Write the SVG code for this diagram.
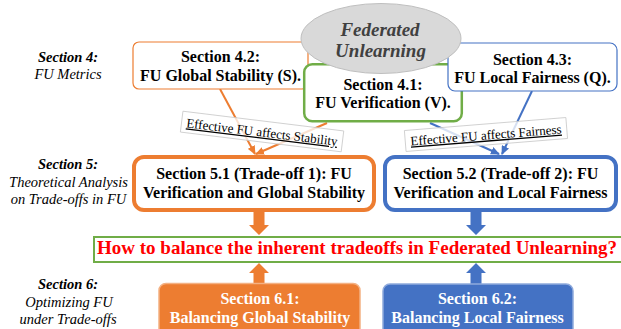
<svg xmlns="http://www.w3.org/2000/svg" width="621" height="329" viewBox="0 0 621 329" font-family="'Liberation Serif', 'Times New Roman', Times, serif">
<style>
text{font-family:'Liberation Serif','Times New Roman',Times,serif;text-anchor:middle}
.b{font-weight:bold;font-size:16px;fill:#000}
.sec{font-weight:bold;font-style:italic;font-size:14.5px}
.sub{font-style:italic;font-size:14.5px}
.lbl{font-size:13px;text-decoration:underline}
.wb{font-weight:bold;font-size:16px;fill:#fff}
.lbox{fill:#fff;fill-opacity:0.78;stroke:#c8c8c8;stroke-width:0.8}
</style>
<defs>
<marker id="ao" markerWidth="9" markerHeight="8" refX="8" refY="4" orient="auto" markerUnits="userSpaceOnUse"><path d="M0,0 L9,4 L0,8 z" fill="#ed7d31"/></marker>
<marker id="ab" markerWidth="9" markerHeight="8" refX="8" refY="4" orient="auto" markerUnits="userSpaceOnUse"><path d="M0,0 L9,4 L0,8 z" fill="#4472c4"/></marker>
</defs>
<rect width="621" height="329" fill="#fff"/>

<g id="side-labels">
<text class="sec" x="68" y="62">Section 4:</text>
<text class="sub" x="68" y="79">FU Metrics</text>
<text class="sec" x="68" y="169">Section 5:</text>
<text class="sub" x="68.5" y="186.5">Theoretical Analysis</text>
<text class="sub" x="68.5" y="204">on Trade-offs in FU</text>
<text class="sec" x="68" y="289">Section 6:</text>
<text class="sub" x="69" y="306.5">Optimizing FU</text>
<text class="sub" x="68" y="324">under Trade-offs</text>
</g>

<g id="connectors" fill="none" stroke-width="2">
<line x1="220" y1="89" x2="255" y2="154" stroke="#ed7d31" marker-end="url(#ao)"/>
<line x1="327" y1="123" x2="256" y2="154" stroke="#ed7d31" marker-end="url(#ao)"/>
<line x1="430" y1="123" x2="499" y2="154" stroke="#4472c4" marker-end="url(#ab)"/>
<line x1="532" y1="91" x2="502" y2="154" stroke="#4472c4" marker-end="url(#ab)"/>
<path d="M253.5,212 H264.5 V225 H269 L259,235 L249,225 H253.5 Z" fill="#ed7d31" stroke="none"/>
<path d="M470.5,212 H481.5 V225 H486 L476,235 L466,225 H470.5 Z" fill="#4472c4" stroke="none"/>
<path d="M253.5,284 H264.5 V273 H269 L259,263 L249,273 H253.5 Z" fill="#ed7d31" stroke="none"/>
<path d="M470.5,284 H481.5 V273 H486 L476,263 L466,273 H470.5 Z" fill="#4472c4" stroke="none"/>
</g>

<g id="label-stability" transform="translate(262,132) rotate(7)">
<rect class="lbox" x="-81" y="-11" width="162" height="21"/>
<text class="lbl" x="0" y="4.5">Effective FU affects Stability</text>
</g>
<g id="label-fairness" transform="translate(486,135) rotate(-4.6)">
<rect class="lbox" x="-81" y="-11" width="162" height="21"/>
<text class="lbl" x="0" y="4.5">Effective FU affects Fairness</text>
</g>

<g id="s42">
<rect x="133" y="42" width="175" height="47" rx="6" fill="#fff" stroke="#ed7d31" stroke-width="1.2"/>
<text class="b" x="220.5" y="62">Section 4.2:</text>
<text class="b" x="220.5" y="81">FU Global Stability (S).</text>
</g>
<g id="s41">
<rect x="304.2" y="64.2" width="157.6" height="57" rx="8" fill="#fff" stroke="#70ad47" stroke-width="2.5"/>
<text class="b" x="383" y="89.5">Section 4.1:</text>
<text class="b" x="383" y="108">FU Verification (V).</text>
</g>
<g id="s43">
<rect x="448" y="43" width="169" height="48" rx="7" fill="#fff" stroke="#4472c4" stroke-width="1.2"/>
<text class="b" x="532.5" y="64.5">Section 4.3:</text>
<text class="b" x="532.5" y="83">FU Local Fairness (Q).</text>
</g>
<g id="fu">
<ellipse cx="381" cy="38.5" rx="80" ry="35" fill="#d9d9d9" stroke="#bfbfbf" stroke-width="1"/>
<text x="380" y="35.5" style="font-weight:bold;font-style:italic;font-size:19px;fill:#404040">Federated</text>
<text x="380.5" y="56.5" style="font-weight:bold;font-style:italic;font-size:19px;fill:#404040">Unlearning</text>
</g>

<g id="s51">
<rect x="134" y="157" width="240" height="53" rx="10" fill="#fff" stroke="#ed7d31" stroke-width="4"/>
<text class="b" x="254" y="178.5">Section 5.1 (Trade-off 1): FU</text>
<text class="b" x="254" y="198">Verification and Global Stability</text>
</g>
<g id="s52">
<rect x="385" y="157" width="231" height="53" rx="10" fill="#fff" stroke="#4472c4" stroke-width="4"/>
<text class="b" x="500.5" y="178.5">Section 5.2 (Trade-off 2): FU</text>
<text class="b" x="500.5" y="198">Verification and Local Fairness</text>
</g>

<g id="question">
<rect x="94" y="237" width="540" height="25" fill="#fff" stroke="#70ad47" stroke-width="2"/>
<text x="357" y="254" style="font-weight:bold;font-size:19px;fill:#ff0000">How to balance the inherent tradeoffs in Federated Unlearning?</text>
</g>

<g id="s61">
<rect x="159" y="283.5" width="201" height="60" rx="7" fill="#ed7d31" stroke="#f4b183" stroke-width="1.5"/>
<text class="wb" x="260" y="303.5">Section 6.1:</text>
<text class="wb" x="260" y="322.5">Balancing Global Stability</text>
</g>
<g id="s62">
<rect x="383" y="284" width="190" height="60" rx="7" fill="#4472c4" stroke="#8faadc" stroke-width="1.5"/>
<text class="wb" x="477.5" y="303.5">Section 6.2:</text>
<text class="wb" x="477.5" y="322.5">Balancing Local Fairness</text>
</g>
</svg>
